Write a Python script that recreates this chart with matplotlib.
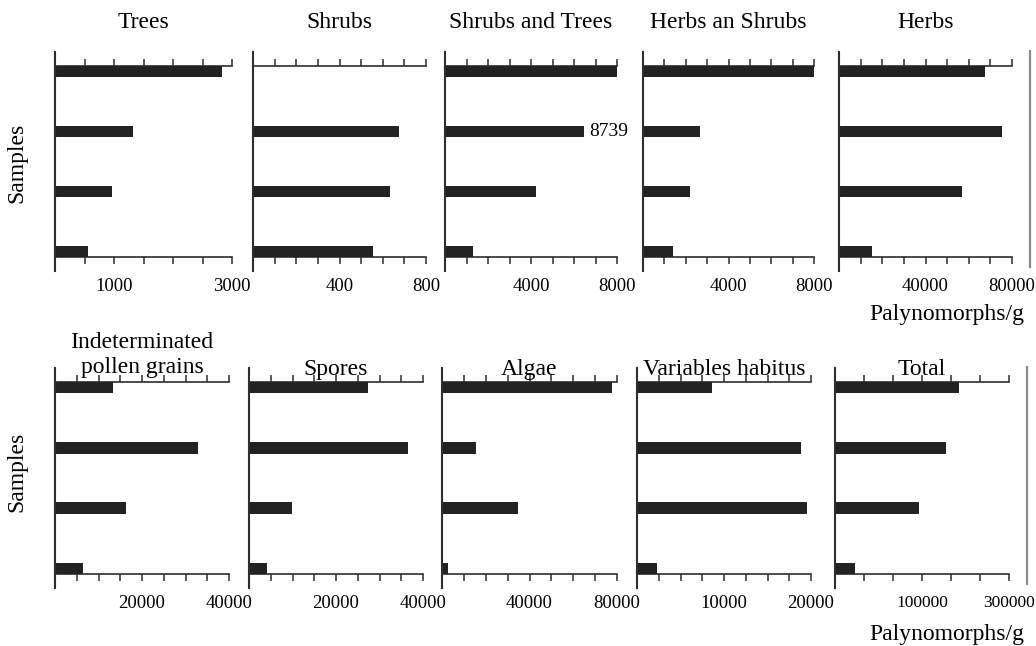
import numpy as np
import matplotlib
matplotlib.use("Agg")
import matplotlib.pyplot as plt

plt.rcParams["font.family"] = ["Liberation Serif", "DejaVu Serif"]

# ---- data (samples listed top to bottom) ----
titles = ["Trees", "Shrubs", "Shrubs and Trees", "Herbs an Shrubs", "Herbs",
          "Indeterminated\npollen grains", "Spores", "Algae",
          "Variables habitus", "Total"]

trees = [2825, 1330, 960, 565]
shrubs = [0, 673, 635, 557]
shrubs_trees = [8739, 6465, 4230, 1320]
herbs_shrubs = [7990, 2670, 2200, 1390]
herbs = [67500, 75200, 57000, 15100]
indeterminated = [13400, 32800, 16250, 6360]
spores = [27400, 36600, 9800, 4060]
algae = [77600, 15400, 34900, 2900]
variables_habitus = [8580, 18800, 19580, 2260]
total = [213800, 191400, 144800, 34500]

series = [trees, shrubs, shrubs_trees, herbs_shrubs, herbs,
          indeterminated, spores, algae, variables_habitus, total]

axis_max = [3000, 800, 8000, 8000, 80000, 40000, 40000, 80000, 20000, 300000]
tick_step = [500, 100, 1000, 1000, 10000, 5000, 5000, 10000, 2500, 50000]
tick_label_pos = [[1000, 3000], [400, 800], [4000, 8000], [4000, 8000],
                  [40000, 80000], [20000, 40000], [20000, 40000],
                  [40000, 80000], [10000, 20000], [150000, 300000]]
tick_label_text = [["1000", "3000"], ["400", "800"], ["4000", "8000"],
                   ["4000", "8000"], ["40000", "80000"], ["20000", "40000"],
                   ["20000", "40000"], ["40000", "80000"],
                   ["10000", "20000"], ["100000", "300000"]]

# ---- layout in pixels ----
W, H = 1036, 646
col_x = [(55, 232), (253, 426), (445, 617), (643, 814), (839, 1012),
         (55, 229), (249, 423), (442, 617), (637, 811), (835, 1009)]
row_y = [(66, 257), (382, 574)]
title_base = [28, 28, 28, 28, 28, 373, 375, 375, 375, 375]
tick_size = [13.5] * 9 + [12.5]

BAR = "#232323"
INK = "#2e2e2e"

fig = plt.figure(figsize=(W / 100, H / 100), dpi=100)
fig.patch.set_facecolor("white")

bar_h = 0.19
ypos = np.arange(4)[::-1]  # top sample at the top

axes = []
for i, vals in enumerate(series):
    x0, x1 = col_x[i]
    yt, yb = row_y[i // 5]
    ax = fig.add_axes([x0 / W, 1 - yb / H, (x1 - x0) / W, (yb - yt) / H])
    axes.append(ax)
    ax.barh(ypos, vals, height=bar_h, color=BAR, zorder=3)
    ax.set_xlim(0, axis_max[i])
    ax.set_ylim(-bar_h / 2, 3 + bar_h / 2)

    ticks = np.arange(0, axis_max[i] + tick_step[i] / 2, tick_step[i])
    ax.set_xticks(ticks)
    labels = []
    for t in ticks:
        lab = ""
        for p, s in zip(tick_label_pos[i], tick_label_text[i]):
            if abs(t - p) < 1e-6:
                lab = s
        labels.append(lab)
    ax.set_xticklabels(labels)
    ax.tick_params(axis="x", direction="out", length=5, width=1.1,
                   color=INK, labelsize=tick_size[i], pad=10, top=True,
                   labeltop=False)
    ax.set_yticks([])

    for side in ("top", "bottom"):
        ax.spines[side].set_color(INK)
        ax.spines[side].set_linewidth(1.2)
    ax.spines["right"].set_visible(False)
    ax.spines["left"].set_visible(False)
    # extended left axis line
    ax.plot([0, 0], [-0.075, 1.075], transform=ax.transAxes, color=INK,
            lw=1.5, clip_on=False, zorder=4)

    fig.text((x0 + x1) / 2 / W, 1 - title_base[i] / H, titles[i],
             ha="center", va="baseline", fontsize=17, linespacing=1.25)

# value note for the clipped Shrubs and Trees bar
axes[2].annotate(f"{shrubs_trees[0]}", xy=(shrubs_trees[1], ypos[1]),
                 xytext=(4, 0), textcoords="offset points",
                 va="center", ha="left", fontsize=14)

# grey frame lines on the right of the last column
for k in (4, 9):
    axes[k].plot([1.105, 1.105], [-0.05, 1.08], transform=axes[k].transAxes,
                 color="#8c8c8c", lw=1.6, clip_on=False)

# shared labels
for yc in (163, 472):
    fig.text(17 / W, 1 - yc / H, "Samples", rotation=90, ha="center",
             va="center", fontsize=17)
for yb in (320, 640):
    fig.text(1024 / W, 1 - yb / H, "Palynomorphs/g", ha="right",
             va="baseline", fontsize=17)

fig.savefig("out.png", dpi=100, facecolor="white")
